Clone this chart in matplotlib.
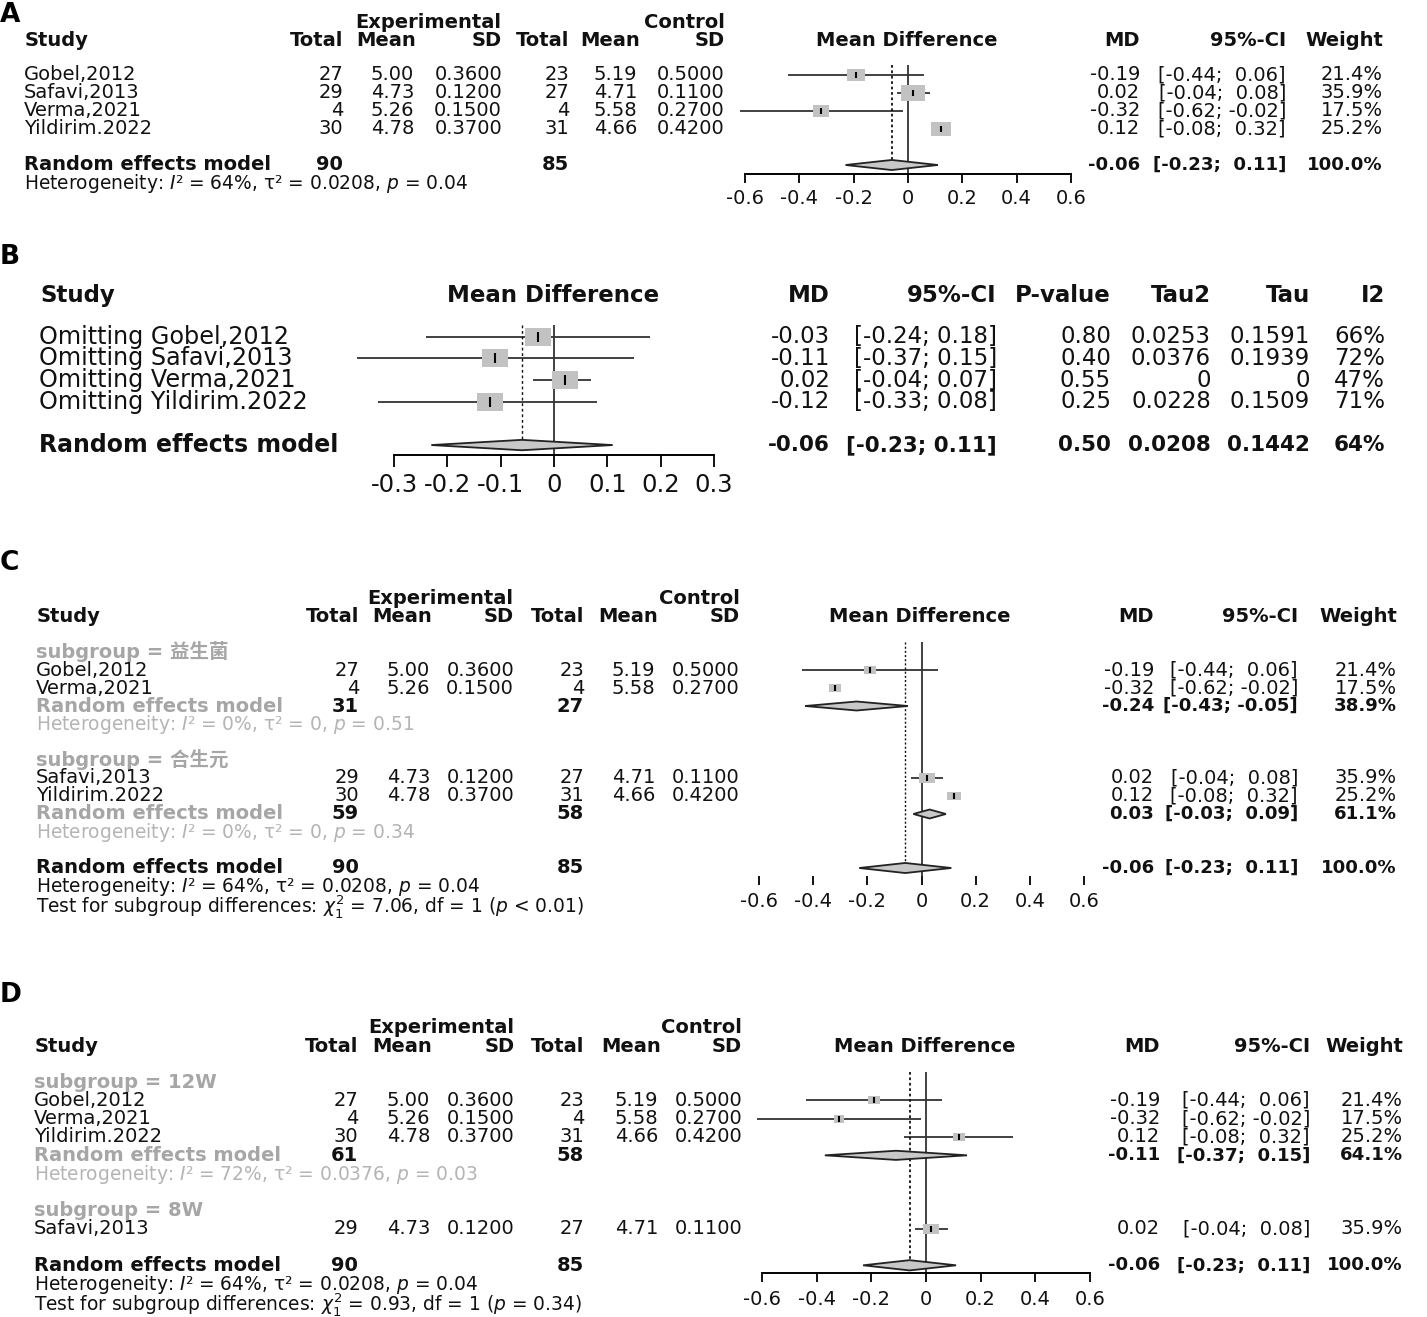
import matplotlib
matplotlib.use("Agg")
import matplotlib.pyplot as plt
from matplotlib.transforms import blended_transform_factory

plt.rcParams['font.family'] = ['DejaVu Sans', 'Noto Sans CJK SC']
plt.rcParams['axes.unicode_minus'] = False
plt.rcParams['mathtext.fontset'] = 'dejavusans'

W, H = 1427, 1317

# ---- data -------------------------------------------------------------
studies = ["Gobel,2012", "Safavi,2013", "Verma,2021", "Yildirim.2022"]
exp_n = [27, 29, 4, 30]
exp_mean = [5.00, 4.73, 5.26, 4.78]
exp_sd = [0.36, 0.12, 0.15, 0.37]
ctl_n = [23, 27, 4, 31]
ctl_mean = [5.19, 4.71, 5.58, 4.66]
ctl_sd = [0.50, 0.11, 0.27, 0.42]
md = [-0.19, 0.02, -0.32, 0.12]
md_lo = [-0.44, -0.04, -0.62, -0.08]
md_hi = [0.06, 0.08, -0.02, 0.32]
weight = [21.4, 35.9, 17.5, 25.2]

re_md, re_lo, re_hi = -0.06, -0.23, 0.11
exp_total, ctl_total = 90, 85
het_i2, het_tau2, het_p = "64%", "0.0208", "0.04"

# B: leave-one-out
loo_md = [-0.03, -0.11, 0.02, -0.12]
loo_lo = [-0.24, -0.37, -0.04, -0.33]
loo_hi = [0.18, 0.15, 0.07, 0.08]
loo_p = ["0.80", "0.40", "0.55", "0.25"]
loo_tau2 = ["0.0253", "0.0376", "0", "0.0228"]
loo_tau = ["0.1591", "0.1939", "0", "0.1509"]
loo_i2 = ["66%", "72%", "47%", "71%"]
re_pval, re_tau = "0.50", "0.1442"

# C: subgroup by agent
c_names = ["益生菌", "合生元"]
c_members = [[0, 2], [1, 3]]
c_n = [(31, 27), (59, 58)]
c_md = [-0.24, 0.03]
c_lo = [-0.43, -0.03]
c_hi = [-0.05, 0.09]
c_w = [38.9, 61.1]
c_het = [("0%", "0", "0.51"), ("0%", "0", "0.34")]
c_test = ("7.06", "1", "< 0.01")

# D: subgroup by duration
d_names = ["12W", "8W"]
d_members = [[0, 2, 3], [1]]
d_n = [(61, 58)]
d_md = [-0.11]
d_lo = [-0.37]
d_hi = [0.15]
d_w = [64.1]
d_het = [("72%", "0.0376", "0.03")]
d_test = ("0.93", "1", "= 0.34")

# CI whiskers that are visible in the source picture
a_ci_shown = [True, True, True, False]
c_ci_shown = {0: True, 2: False, 1: True, 3: False}

INK = "#111111"
GREY_TXT = "#a6a6a6"
SQUARE = "#c2c2c2"
DIAM = "#c8c8c8"
LINE = "#333333"
RECT = [(-0.75, -0.5), (0.75, -0.5), (0.75, 0.5), (-0.75, 0.5), (-0.75, -0.5)]

fig = plt.figure(figsize=(W / 100, H / 100), dpi=100)


def make_forest(x0, x1, xlim, row0, rh, r_top, r_axis, ticks, fs, tlen, pad):
    top = row0 + r_top * rh
    bot = row0 + r_axis * rh
    ax = fig.add_axes([x0 / W, 1 - bot / H, (x1 - x0) / W, (bot - top) / H])
    ax.set_xlim(*xlim)
    ax.set_ylim(r_axis, r_top)
    ax.patch.set_alpha(0)
    for side in ["top", "right", "left"]:
        ax.spines[side].set_visible(False)
    ax.spines["bottom"].set_linewidth(1.4)
    ax.set_yticks([])
    ax.set_xticks(ticks)
    ax.set_xticklabels([f"{t:g}" for t in ticks])
    ax.tick_params(axis="x", direction="out", length=tlen, width=1.4,
                   pad=pad, labelsize=fs, colors=INK)
    ax.vlines(0, r_top, r_axis, color=LINE, lw=1.3)
    return ax


def put(ax, x, r, s, ha="left", size=14, bold=False, color=INK, **kw):
    tr = blended_transform_factory(fig.transFigure, ax.transData)
    ax.text(x / W, r, s, transform=tr, ha=ha, va="center", fontsize=size,
            fontweight="bold" if bold else "normal", color=color, **kw)


def study_mark(ax, r, est, lo, hi, s, ci=True, tick=5):
    if ci:
        ax.hlines(r, lo, hi, color=LINE, lw=1.3, clip_on=False, zorder=2)
    ax.scatter([est], [r], s=s, marker=RECT, color=SQUARE, linewidths=0,
               zorder=3, clip_on=False)
    ax.plot([est], [r], marker="|", ms=tick, mew=1.5, color="black",
            zorder=4, clip_on=False)


def diamond(ax, r, est, lo, hi, hh):
    ax.fill([lo, est, hi, est], [r, r - hh, r, r + hh], facecolor=DIAM,
            edgecolor="#222222", lw=1.3, zorder=3, clip_on=False)


def fmt_ci(lo, hi):
    return f"[{lo:5.2f}; {hi:5.2f}]"


def het_text(i2, tau2, p):
    return f"Heterogeneity: $I$² = {i2}, τ² = {tau2}, $p$ = {p}"


def test_text(chi, df, p):
    return rf"Test for subgroup differences: $\chi^2_1$ = {chi}, df = {df} ($p$ {p})"


def table_header(ax, cols, exp_x, r_exp, r_head, fs):
    lab, n1, m1, s1, n2, m2, s2, mdc, mdv, ci, wt = cols
    put(ax, exp_x, r_exp, "Experimental", ha="center", size=fs, bold=True)
    put(ax, s2, r_exp, "Control", ha="right", size=fs, bold=True)
    put(ax, lab + 1, r_head, "Study", size=fs, bold=True)
    for x, t in [(n1, "Total"), (m1 + 2, "Mean"), (s1, "SD"), (n2, "Total"),
                 (m2 + 3, "Mean"), (s2, "SD"), (mdv, "MD"), (ci, "95%-CI"),
                 (wt, "Weight")]:
        put(ax, x, r_head, t, ha="right", size=fs, bold=True)
    put(ax, mdc, r_head, "Mean Difference", ha="center", size=fs, bold=True)


def study_row(ax, cols, r, i, fs):
    lab, n1, m1, s1, n2, m2, s2, mdc, mdv, ci, wt = cols
    put(ax, lab, r, studies[i], size=fs)
    put(ax, n1, r, f"{exp_n[i]}", ha="right", size=fs)
    put(ax, m1, r, f"{exp_mean[i]:.2f}", ha="right", size=fs)
    put(ax, s1, r, f"{exp_sd[i]:.4f}", ha="right", size=fs)
    put(ax, n2, r, f"{ctl_n[i]}", ha="right", size=fs)
    put(ax, m2, r, f"{ctl_mean[i]:.2f}", ha="right", size=fs)
    put(ax, s2, r, f"{ctl_sd[i]:.4f}", ha="right", size=fs)
    put(ax, mdv, r, f"{md[i]:.2f}", ha="right", size=fs)
    put(ax, ci, r, fmt_ci(md_lo[i], md_hi[i]), ha="right", size=fs)
    put(ax, wt, r, f"{weight[i]:.1f}%", ha="right", size=fs)


def pooled_row(ax, cols, r, label, n1v, n2v, est, lo, hi, w, fs, color=INK):
    lab, n1, m1, s1, n2, m2, s2, mdc, mdv, ci, wt = cols
    fn = fs * 0.93  # bold digits are wider in DejaVu than in the source font
    put(ax, lab, r, label, size=fs, bold=True, color=color)
    put(ax, n1, r, f"{n1v}", ha="right", size=fs, bold=True)
    put(ax, n2, r, f"{n2v}", ha="right", size=fs, bold=True)
    put(ax, mdv, r, f"{est:.2f}", ha="right", size=fn, bold=True)
    put(ax, ci, r, fmt_ci(lo, hi), ha="right", size=fn, bold=True)
    put(ax, wt, r, f"{w:.1f}%", ha="right", size=fn, bold=True)


FS = 14
FSH = 13.4  # heterogeneity / test lines
ticks6 = [-0.6, -0.4, -0.2, 0, 0.2, 0.4, 0.6]

# ---- panel A ------------------------------------------------------------
colsA = (24, 343, 414, 502, 569, 637, 725, 907, 1140, 1286, 1383)
axA = make_forest(745, 1071, (-0.6, 0.6), 75, 18, -0.55, 5.5, ticks6, FS, 6.5, 4)
put(axA, 0, -3.33, "A", size=19, bold=True, color="black")
table_header(axA, colsA, 428, -2.94, -1.94, FS)
for i in range(4):
    study_row(axA, colsA, i, i, FS)
    study_mark(axA, i, md[i], md_lo[i], md_hi[i], 8.5 * weight[i], a_ci_shown[i])
pooled_row(axA, colsA, 5, "Random effects model", exp_total, ctl_total,
           re_md, re_lo, re_hi, 100.0, FS)
diamond(axA, 5, re_md, re_lo, re_hi, 0.28)
axA.vlines(re_md, -0.55, 5 - 0.28, color=INK, lw=1.3, linestyles=(0, (1.5, 1.5)))
put(axA, 24, 6.05, het_text(het_i2, het_tau2, het_p), size=FSH)

# ---- panel B ------------------------------------------------------------
FSB = 16.5
rB0, rhB = 336.7, 21.67
axB = make_forest(394, 714, (-0.3, 0.3), rB0, rhB, -0.54, 5.46,
                  [-0.3, -0.2, -0.1, 0, 0.1, 0.2, 0.3], 17.5, 8.6, 4.5)
put(axB, 0, -3.68, "B", size=19, bold=True, color="black")
rh = -1.92
put(axB, 40, rh, "Study", size=FSB, bold=True)
put(axB, 553, rh, "Mean Difference", ha="center", size=FSB, bold=True)
for x, t in [(830, "MD"), (997, "95%-CI"), (1111, "P-value"), (1211, "Tau2"),
             (1310, "Tau"), (1385, "I2")]:
    put(axB, x, rh, t, ha="right", size=FSB, bold=True)
for i in range(4):
    put(axB, 39, i, "Omitting " + studies[i], size=17.2)
    put(axB, 830, i, f"{loo_md[i]:.2f}", ha="right", size=FSB)
    put(axB, 997, i, f"[{loo_lo[i]:.2f}; {loo_hi[i]:.2f}]", ha="right", size=FSB)
    put(axB, 1111, i, loo_p[i], ha="right", size=FSB)
    put(axB, 1211, i, loo_tau2[i], ha="right", size=FSB)
    put(axB, 1310, i, loo_tau[i], ha="right", size=FSB)
    put(axB, 1385, i, loo_i2[i], ha="right", size=FSB)
    study_mark(axB, i, loo_md[i], loo_lo[i], loo_hi[i], 340, tick=7)
put(axB, 39, 5, "Random effects model", size=17, bold=True)
for x, t in [(830, f"{re_md:.2f}"), (997, f"[{re_lo:.2f}; {re_hi:.2f}]"),
             (1111, re_pval), (1211, het_tau2), (1310, re_tau), (1385, het_i2)]:
    put(axB, x, 5, t, ha="right", size=15.5, bold=True)
diamond(axB, 5, re_md, re_lo, re_hi, 0.24)
axB.vlines(re_md, -0.54, 5 - 0.24, color=INK, lw=1.0, linestyles=(0, (2, 2)))

# ---- panel C ------------------------------------------------------------
colsC = (36, 359, 430, 514, 584, 655, 740, 920, 1154, 1298, 1397)
axC = make_forest(759, 1084, (-0.6, 0.6), 652, 18, -0.55, 12.44, ticks6, FS, 6.5, 5)
axC.spines["bottom"].set_visible(False)
put(axC, 0, -4.94, "C", size=19, bold=True, color="black")
table_header(axC, colsC, 440, -3.0, -2.0, FS)
r = 0
for g in range(2):
    put(axC, 36, r, "subgroup = " + c_names[g], size=FS, bold=True, color=GREY_TXT)
    r += 1
    for i in c_members[g]:
        study_row(axC, colsC, r, i, FS)
        study_mark(axC, r, md[i], md_lo[i], md_hi[i], 3.6 * weight[i], c_ci_shown[i], tick=4)
        r += 1
    pooled_row(axC, colsC, r, "Random effects model", c_n[g][0], c_n[g][1],
               c_md[g], c_lo[g], c_hi[g], c_w[g], FS, color=GREY_TXT)
    diamond(axC, r, c_md[g], c_lo[g], c_hi[g], 0.25)
    r += 1
    put(axC, 36, r + 0.05, het_text(*c_het[g]), size=FSH, color="#b4b4b4")
    r += 2
pooled_row(axC, colsC, r, "Random effects model", exp_total, ctl_total,
           re_md, re_lo, re_hi, 100.0, FS)
diamond(axC, r, re_md, re_lo, re_hi, 0.28)
axC.vlines(re_md, -0.55, r - 0.28, color=INK, lw=1.0, linestyles=(0, (1.5, 1.5)))
put(axC, 36, r + 1.03, het_text(het_i2, het_tau2, het_p), size=FSH)
put(axC, 36, r + 2.16, test_text(*c_test), size=FSH)

# ---- panel D ------------------------------------------------------------
colsD = (34, 358, 430, 515, 584, 658, 742, 925, 1160, 1310, 1403)
axD = make_forest(762, 1090, (-0.6, 0.6), 1082, 18.33, -0.55, 10.42, ticks6, FS, 6.5, 6)
put(axD, 0, -4.75, "D", size=19, bold=True, color="black")
table_header(axD, colsD, 441, -3.0, -1.96, FS)
r = 0
for g in range(2):
    put(axD, 34, r, "subgroup = " + d_names[g], size=FS, bold=True, color=GREY_TXT)
    r += 1
    for i in d_members[g]:
        study_row(axD, colsD, r, i, FS)
        study_mark(axD, r, md[i], md_lo[i], md_hi[i], 3.4 * weight[i], tick=4)
        r += 1
    if g < len(d_n):
        pooled_row(axD, colsD, r, "Random effects model", d_n[g][0], d_n[g][1],
                   d_md[g], d_lo[g], d_hi[g], d_w[g], FS, color=GREY_TXT)
        diamond(axD, r, d_md[g], d_lo[g], d_hi[g], 0.25)
        r += 1
        put(axD, 34, r + 0.05, het_text(*d_het[g]), size=FSH, color="#b4b4b4")
        r += 2
    else:
        r += 1
pooled_row(axD, colsD, r, "Random effects model", exp_total, ctl_total,
           re_md, re_lo, re_hi, 100.0, FS)
diamond(axD, r, re_md, re_lo, re_hi, 0.28)
axD.vlines(re_md, -0.55, r - 0.28, color=INK, lw=1.3, linestyles=(0, (1.5, 1.5)))
put(axD, 34, r + 1.03, het_text(het_i2, het_tau2, het_p), size=FSH)
put(axD, 34, r + 2.15, test_text(*d_test), size=FSH)

fig.savefig("out.png", dpi=100, facecolor="white")
